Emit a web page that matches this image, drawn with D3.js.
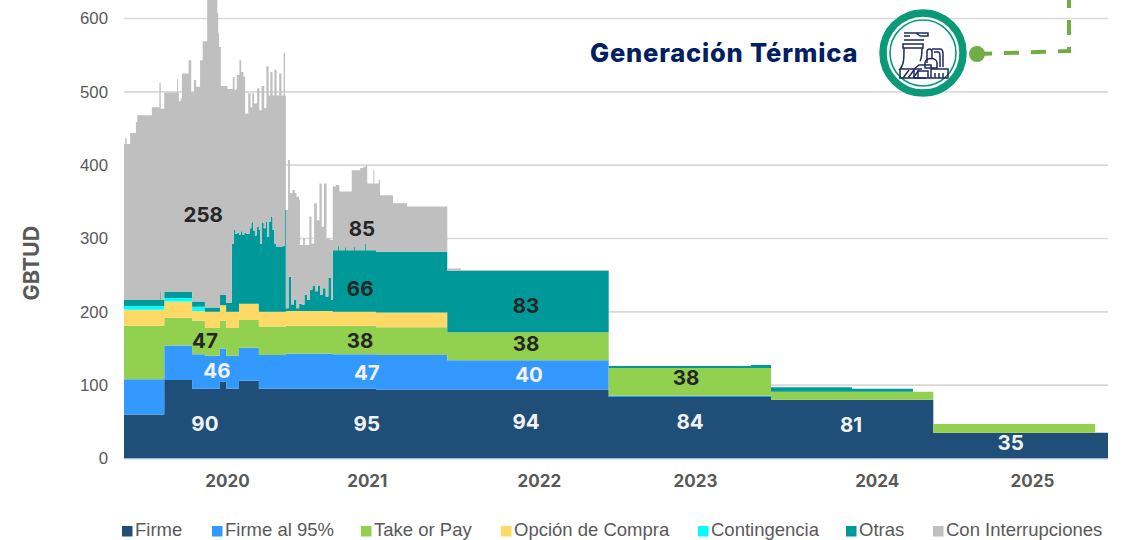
<!DOCTYPE html>
<html>
<head>
<meta charset="utf-8">
<script src="https://cdn.jsdelivr.net/npm/d3@7"></script>
<style>
  html, body { margin: 0; padding: 0; background: #fff; overflow: hidden; }
  svg { display: block; }
</style>
</head>
<body>
<div id="chart"></div>
<script>
// dias contados desde el 1 de enero de 2020
var inicio = Date.UTC(2020, 0, 1);
var diaFinal = 2225;

var serieNombres = ['Firme', 'Firme al 95%', 'Take or Pay', 'Opción de Compra', 'Contingencia', 'Otras', 'Con Interrupciones'];
var serieColores = ['#1f4e79', '#3399ff', '#92d050', '#ffd966', '#00ffff', '#009999', '#bfbfbf'];

var diasBase = [0, 91, 154, 183, 217, 231, 260, 305, 366, 472, 570, 731, 1096, 1463, 1830, 2196, 2225];
var firme = [60, 107, 95, 95, 105, 95, 106, 95, 95, 95, 94, 94, 84, 80, 35, 35, 35];
var firme95 = [48, 47, 47, 45, 45, 45, 45, 46, 48, 47, 47, 40, 1.5, 0, 0, 0, 0];
var takeOrPay = [73, 38, 46, 38, 38, 38, 38, 39, 38, 39, 38, 38, 38, 11, 12, 0, 0];
var opcion = [22, 22, 13, 22, 21, 22, 22, 20, 20, 19, 20, 0, 0, 0, 0, 0, 0];
var contingencia = [5, 5, 6, 0, 0, 0, 0, 0, 0, 0, 0, 0, 0, 0, 0, 0, 0];

var diasOtras = [0, 62, 64, 82, 84, 154, 183, 217, 231,
  244, 248, 252, 256, 260, 264, 268, 272, 276, 280, 284, 288, 292, 296, 300, 304,
  308, 312, 316, 320, 324, 328, 332, 336, 340, 344, 348, 352, 356, 360, 364,
  366, 372, 378, 384, 390, 396, 402, 408, 414, 420, 426, 432, 438, 444, 450, 456, 462, 468,
  472, 484, 486, 500, 502, 520, 522, 545, 547, 570, 731, 1096, 1418, 1463, 1646, 1784];
var otras = [8, 10, 8, 20, 8, 7, 6, 14, 12,
  93, 112, 106, 108, 94, 99, 94, 97, 95, 95, 103, 111, 100, 93, 105, 112,
  93, 121, 114, 123, 102, 123, 130, 112, 93, 89, 89, 89, 89, 90, 139,
  4, 47, 9, 15, 4, 10, 9, 22, 15, 29, 35, 27, 35, 22, 31, 20, 45, 15,
  84, 90, 84, 88, 84, 89, 84, 93, 84, 83, 84, 2.5, 4, 6, 4, 0];

// borde superior del area gris, leido sobre el eje
var diasTope = [0, 3, 6, 14, 27, 30, 63, 80, 83, 91, 120, 122, 124, 128, 131, 146, 152, 158, 163, 172, 178, 188, 211, 213, 215, 219, 234,
  246, 250, 255, 261, 265, 270, 274, 281, 286, 290, 294, 301, 306, 311, 317, 322, 327, 331, 336, 340, 345, 351, 356, 361, 364,
  366, 371, 375, 381, 386, 390, 396, 398, 405, 409, 419, 424, 430, 436, 442, 447, 452, 458, 466,
  472, 479, 487, 515, 534, 541, 547, 550, 564, 566, 576, 579, 608, 640, 731, 762, 1096];
var topeTotal = [429, 437, 429, 444, 459, 468, 479, 512, 477, 499, 518, 499, 487, 491, 525, 543, 499, 516, 507, 543, 569, 640, 607, 580, 561, 508, 504,
  520, 503, 523, 543, 527, 521, 470, 498, 479, 498, 484, 505, 475, 508, 478, 535, 495, 527, 495, 530, 495, 525, 495, 553, 495,
  339, 407, 362, 366, 362, 357, 353, 291, 300, 291, 330, 293, 348, 325, 375, 316, 375, 300, 298,
  371, 373, 364, 393, 396, 398, 400, 375, 393, 375, 380, 359, 348, 343.5, 259, 257, 0];

var etiquetaTextos = ['258', '85', '66', '47', '38', '46', '47', '90', '95', '83', '38', '40', '94', '38', '84', '81', '35'];
var etiquetaDias = [179, 538, 534, 183, 534, 210, 549, 183, 549, 909, 909, 916, 909, 1271, 1280, 1644, 2005];
var etiquetaValores = [332, 314, 232, 161, 161, 120, 117, 47, 47, 208, 156, 114, 50, 110, 50, 46, 21];
var etiquetaClaras = [false, false, false, false, false, true, true, true, true, false, false, true, true, false, true, true, true];

var anios = ['2020', '2021', '2022', '2023', '2024', '2025'];
var aniosDias = [233, 549, 938, 1291, 1702, 2053];

var leyendaX = [122, 212, 361, 501, 698, 846, 933];

var width = 1124,
  height = 540,
  sans = '"Liberation Sans", Arial, sans-serif',
  bold = 'Inter, "Noto Sans", sans-serif';

function fecha(d) {
  return d3.utcDay.offset(new Date(inicio), d);
}

// valor vigente de una serie escalonada en un dia dado
function escalon(dias, valores, d) {
  var i = d3.bisectRight(dias, d) - 1;
  return i < 0 ? 0 : valores[i];
}

var todosDias = Array.from(new Set(diasBase.concat(diasOtras, diasTope))).sort(d3.ascending);

var tabla = todosDias.map(function (d) {
  var row = { dia: d };
  row[serieNombres[0]] = escalon(diasBase, firme, d);
  row[serieNombres[1]] = escalon(diasBase, firme95, d);
  row[serieNombres[2]] = escalon(diasBase, takeOrPay, d);
  row[serieNombres[3]] = escalon(diasBase, opcion, d);
  row[serieNombres[4]] = escalon(diasBase, contingencia, d);
  row[serieNombres[5]] = escalon(diasOtras, otras, d);
  var suma = d3.sum(serieNombres.slice(0, 6), function (k) { return row[k]; });
  row[serieNombres[6]] = Math.max(0, escalon(diasTope, topeTotal, d) - suma);
  return row;
});

var x = d3.scaleUtc().domain([fecha(0), fecha(diaFinal)]).range([124, 1108]);
var y = d3.scaleLinear().domain([0, 600]).range([458.5, 18.5]);

var svg = d3.select('#chart').append('svg')
  .attr('width', width)
  .attr('height', height);

// Gridlines
svg.append('g')
  .selectAll('line')
  .data(d3.range(100, 601, 100))
  .join('line')
  .attr('x1', 124)
  .attr('x2', 1108)
  .attr('y1', d => y(d))
  .attr('y2', d => y(d))
  .attr('stroke', '#d9d9d9')
  .attr('stroke-width', 1.6);

// Stacked areas
var stack = d3.stack().keys(serieNombres);
var area = d3.area()
  .curve(d3.curveStepAfter)
  .x(d => x(fecha(d.data.dia)))
  .y0(d => y(d[0]))
  .y1(d => y(d[1]));

svg.append('g')
  .selectAll('path')
  .data(stack(tabla))
  .join('path')
  .attr('fill', (d, i) => serieColores[i])
  .attr('d', area);

// Y axis
var yAxis = d3.axisLeft(y).tickValues(d3.range(0, 601, 100)).tickSize(0).tickPadding(0);
svg.append('g')
  .attr('transform', 'translate(108,0)')
  .call(yAxis)
  .call(g => g.select('.domain').remove())
  .call(g => g.selectAll('text')
    .attr('font-family', sans)
    .attr('font-size', 16.8)
    .attr('fill', '#595959'));

// X axis, etiquetas de anio
var xAxis = d3.axisBottom(x)
  .tickValues(aniosDias.map(fecha))
  .tickFormat((d, i) => anios[i])
  .tickSize(0)
  .tickPadding(16);
svg.append('g')
  .attr('transform', 'translate(0,' + y(0) + ')')
  .call(xAxis)
  .call(g => g.select('.domain').attr('stroke', '#c5ced8').attr('stroke-width', 1))
  .call(g => g.selectAll('text')
    .attr('font-family', bold)
    .attr('font-weight', 700)
    .attr('font-size', 17)
    .attr('fill', '#595959'));

// Etiquetas de valores
svg.append('g')
  .selectAll('text')
  .data(etiquetaTextos)
  .join('text')
  .attr('x', (d, i) => x(fecha(etiquetaDias[i])))
  .attr('y', (d, i) => y(etiquetaValores[i]))
  .attr('dy', '.36em')
  .attr('text-anchor', 'middle')
  .attr('font-family', bold)
  .attr('font-weight', 700)
  .attr('font-size', 20.5)
  .attr('fill', (d, i) => etiquetaClaras[i] ? '#f2f2f2' : '#262626')
  .text(d => d);

// Titulo del eje
svg.append('text')
  .attr('transform', 'translate(39,263) rotate(-90)')
  .attr('text-anchor', 'middle')
  .attr('font-family', bold)
  .attr('font-weight', 700)
  .attr('font-size', 21.5)
  .attr('fill', '#595959')
  .text('GBTUD');

// Leyenda
var leyenda = svg.append('g')
  .selectAll('g')
  .data(serieNombres)
  .join('g')
  .attr('transform', (d, i) => 'translate(' + leyendaX[i] + ',526)');
leyenda.append('rect')
  .attr('width', 10.5)
  .attr('height', 10.5)
  .attr('fill', (d, i) => serieColores[i]);
leyenda.append('text')
  .attr('x', 13)
  .attr('y', 10)
  .attr('font-family', sans)
  .attr('font-size', 18.5)
  .attr('fill', '#595959')
  .text(d => d);

// Rotulo con icono y conector
svg.append('text')
  .attr('x', 590)
  .attr('y', 61.5)
  .attr('font-family', bold)
  .attr('font-weight', 800)
  .attr('font-size', 25.5)
  .attr('letter-spacing', 0.8)
  .attr('fill', '#002060')
  .text('Generación Térmica');

svg.append('path')
  .attr('d', 'M977,54 L1069,51 L1069,-4')
  .attr('fill', 'none')
  .attr('stroke', '#70ad47')
  .attr('stroke-width', 4)
  .attr('stroke-dasharray', '15 12');
svg.append('circle')
  .attr('cx', 977).attr('cy', 54).attr('r', 8)
  .attr('fill', '#70ad47');

var icono = svg.append('g').attr('transform', 'translate(923,53)');
icono.append('circle').attr('r', 40).attr('fill', '#fff').attr('stroke', '#0a9a78').attr('stroke-width', 7.5);
icono.append('circle').attr('r', 33).attr('fill', '#fff').attr('stroke', '#0a9a78').attr('stroke-width', 1.6);
icono.append('g')
  .attr('fill', 'none')
  .attr('stroke', '#1f2a5c')
  .attr('stroke-width', 1.5)
  .selectAll('path')
  .data([
    'M-19,-13 L1,-13 M-19,-20 L-8,-20 C-5,-20 -5,-17 -2,-17 L5,-17 L5,-20 L-8,-20 M-19,-17 L-13,-17',
    'M-20,-9 L0,-9 L0,-5 L-20,-5 Z',
    'M-19,-5 C-19,5 -19,12 -23,16 L-1,16 M-1,-5 C-1,2 -1,5 -3,8',
    'M-23,16 L-23,25 L3,25 M-20,25 L-14,17 M-15,25 L-9,17 M-10,25 L-4,17',
    'M4,10 L4,-1 C4,-5 9,-5 9,-1 L9,5 M9,-4 L17,-4 C20,-4 20,-1 20,1 L20,14 M11,-1 L15,-1 C17,-1 17,1 17,3 L17,14',
    'M2,10 C2,4 14,4 14,10 L14,15 L2,15 Z',
    'M-9,25 L-9,16 L-4,12 L8,12 L8,25 M-5,25 L-5,18 L5,18 L5,25 M8,16 L25,16 L25,25 L-9,25',
    'M12,20 L12,25 M16,20 L16,25 M20,20 L20,25'
  ])
  .join('path')
  .attr('d', d => d);
</script>
</body>
</html>
